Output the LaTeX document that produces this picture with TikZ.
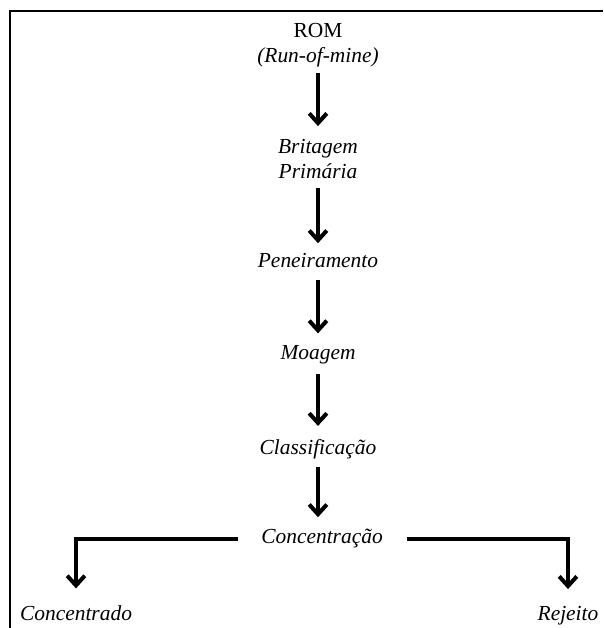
\documentclass[tikz,border=0pt]{standalone}
\usepackage{fontspec}
\setmainfont{Liberation Serif}
\usepackage{tikz}
\usetikzlibrary{arrows.meta}

\begin{document}
\begin{tikzpicture}[x=0.02cm,y=-0.02cm,
  every node/.style={font=\fontsize{12.2}{14.2}\selectfont\itshape, align=center},
  seta/.style={line width=2.3pt, -{Straight Barb[length=5.5pt,width=10pt,line width=2.3pt]}}]
\useasboundingbox (0,0) rectangle (603,628);
% moldura
\draw [line width=1.1pt] (10,628) -- (10,11) -- (603,11);
\node (0) at (318,45) {\upshape ROM\\(\textit{Run-of-mine})};
\node (1) at (318,159) {Britagem\\Primária};
\node (2) at (318,261) {Peneiramento};
\node (3) at (318,355) {Moagem};
\node (4) at (318,449) {Classificação};
\node (5) at (322,539) {Concentração};
\node (6) [anchor=base] at (76,620) {Concentrado};
\node (7) [anchor=base] at (568,620) {Rejeito};
\draw [seta, shorten <=0pt, shorten >=4pt] (0) -- (1);
\draw [seta, shorten <=1.5pt, shorten >=2.5pt] (1) -- (2);
\draw [seta, shorten <=3pt, shorten >=3.5pt] (2) -- (3);
\draw [seta, shorten <=2pt, shorten >=4pt] (3) -- (4);
\draw [seta, shorten <=1pt, shorten >=3.5pt] (4.south) -- (4.south |- 5.north);
\draw [seta, shorten <=10pt, shorten >=6pt] (5.west) -| (6.north);
\draw [seta, shorten <=10pt, shorten >=6pt] (5.east) -| (7.north);
\end{tikzpicture}
\end{document}
